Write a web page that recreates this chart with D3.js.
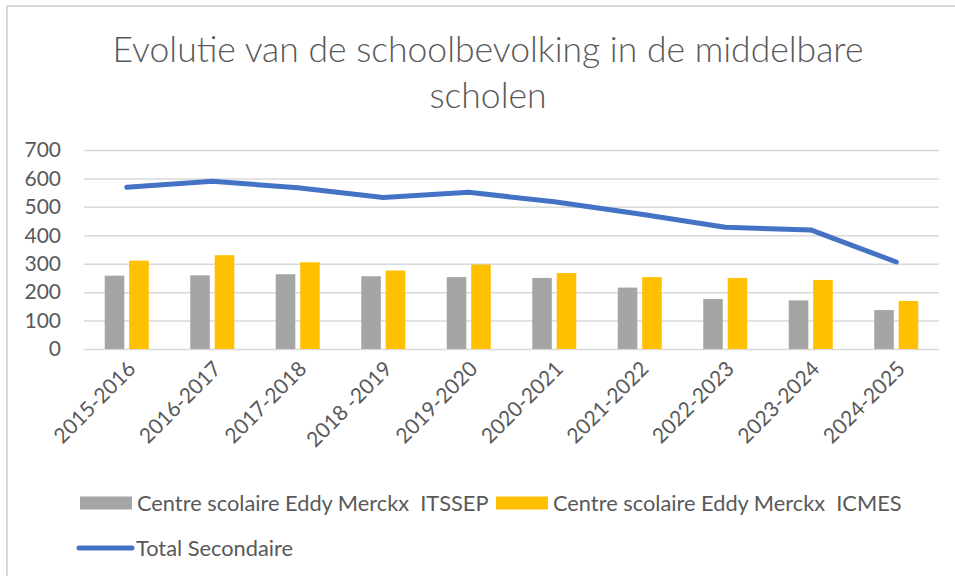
<!DOCTYPE html>
<html>
<head>
<meta charset="utf-8">
<script src="https://cdn.jsdelivr.net/npm/d3@7"></script>
<style>
  body { margin: 0; background: #fff; }
  svg { display: block; font-family: Lato, "Open Sans", sans-serif; }
</style>
</head>
<body>
<div id="chart"></div>
<script>
const W = 955, H = 576;
const margin = {top: 150, right: 16, bottom: 227, left: 84};

// data
const categories = ["2015-2016", "2016-2017", "2017-2018", "2018 -2019", "2019-2020",
                    "2020-2021", "2021-2022", "2022-2023", "2023-2024", "2024-2025"];
const itssep = [258, 259, 263, 256, 253, 250, 216, 176, 171, 137];
const icmes = [311, 330, 305, 276, 297, 267, 253, 250, 243, 169];
const total = [569, 590, 567, 533, 551, 518, 475, 428, 419, 306];
const yTicks = [0, 100, 200, 300, 400, 500, 600, 700];
const seriesNames = ["Centre scolaire Eddy Merckx  ITSSEP", "Centre scolaire Eddy Merckx  ICMES", "Total Secondaire"];
const titleLines = ["Evolutie van de schoolbevolking in de middelbare", "scholen"];

const colors = {itssep: "#A5A5A5", icmes: "#FFC000", total: "#4472C4"};
const textColor = "#595959";
const fontSize = "21px";

const svg = d3.select("#chart").append("svg")
    .attr("width", W)
    .attr("height", H);

// chart frame
svg.append("path")
    .attr("d", `M7,${H} V6 H${W}`)
    .attr("fill", "none")
    .attr("stroke", "#D9D9D9")
    .attr("stroke-width", 2);

// title
svg.append("g")
    .selectAll("text")
    .data(titleLines)
    .join("text")
    .attr("x", 488)
    .attr("y", (d, i) => 62 + i * 46)
    .attr("text-anchor", "middle")
    .attr("fill", textColor)
    .style("font-size", "35.5px")
    .style("font-weight", 300)
    .text(d => d);

const x = d3.scaleBand()
    .domain(categories)
    .range([margin.left, W - margin.right]);

const xSub = d3.scaleBand()
    .domain(["itssep", "icmes"])
    .range([x.bandwidth() / 2 - 22, x.bandwidth() / 2 + 22])
    .paddingInner(0.2);

const y = d3.scaleLinear()
    .domain([0, 700])
    .range([H - margin.bottom, margin.top]);

// gridlines + y labels
svg.append("g")
    .attr("transform", `translate(${margin.left},0)`)
    .call(d3.axisLeft(y).tickValues(yTicks).tickSize(-(W - margin.right - margin.left)).tickPadding(23))
    .call(g => g.select(".domain").remove())
    .call(g => g.selectAll(".tick line").attr("stroke", "#D9D9D9").attr("stroke-width", 1.5))
    .call(g => g.selectAll(".tick text")
        .attr("fill", textColor)
        .style("font-size", fontSize)
        .style("font-family", "Lato, sans-serif"));

// bars
const barData = categories.map((c, i) => ({cat: c, itssep: itssep[i], icmes: icmes[i]}));
svg.append("g")
    .selectAll("g")
    .data(barData)
    .join("g")
    .attr("transform", d => `translate(${x(d.cat)},0)`)
    .selectAll("rect")
    .data(d => ["itssep", "icmes"].map(k => ({key: k, value: d[k]})))
    .join("rect")
    .attr("x", d => xSub(d.key))
    .attr("y", d => y(d.value))
    .attr("width", xSub.bandwidth())
    .attr("height", d => y(0) - y(d.value))
    .attr("fill", d => colors[d.key]);

// line
const line = d3.line()
    .x((d, i) => x(categories[i]) + x.bandwidth() / 2)
    .y(d => y(d));

svg.append("path")
    .datum(total)
    .attr("d", line)
    .attr("fill", "none")
    .attr("stroke", colors.total)
    .attr("stroke-width", 5)
    .attr("stroke-linecap", "round")
    .attr("stroke-linejoin", "round");

// x labels
svg.append("g")
    .selectAll("text")
    .data(categories)
    .join("text")
    .attr("transform", d => `translate(${x(d) + x.bandwidth() / 2 + 5},${H - margin.bottom + 16}) rotate(-45)`)
    .attr("text-anchor", "end")
    .attr("dy", "0.35em")
    .attr("fill", textColor)
    .style("font-size", fontSize)
    .text(d => d);

// legend
const legend = svg.append("g").attr("fill", textColor).style("font-size", "21.8px");
const legendItems = [
    {name: seriesNames[0], key: "itssep", x: 80, y: 503, type: "rect"},
    {name: seriesNames[1], key: "icmes", x: 496, y: 503, type: "rect"},
    {name: seriesNames[2], key: "total", x: 79, y: 548, type: "line"}
];
legendItems.forEach(d => {
    if (d.type === "rect") {
        legend.append("rect")
            .attr("x", d.x).attr("y", d.y - 6.5)
            .attr("width", 52).attr("height", 13)
            .attr("fill", colors[d.key]);
    } else {
        legend.append("line")
            .attr("x1", d.x).attr("x2", d.x + 53)
            .attr("y1", d.y).attr("y2", d.y)
            .attr("stroke", colors[d.key])
            .attr("stroke-width", 5)
            .attr("stroke-linecap", "round");
    }
    legend.append("text")
        .attr("x", d.x + 57)
        .attr("y", d.y)
        .attr("dy", "0.35em")
        .attr("xml:space", "preserve")
        .style("white-space", "pre")
        .text(d.name);
});
</script>
</body>
</html>
